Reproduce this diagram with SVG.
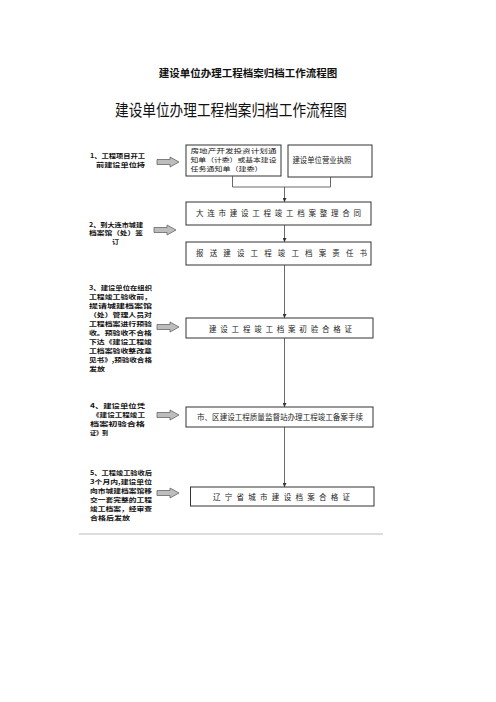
<svg xmlns="http://www.w3.org/2000/svg" width="496" height="702" viewBox="0 0 496 702">
<defs>
<style>
.t{font-family:"Noto Sans CJK SC","Noto Sans",sans-serif;}
.lt{font-family:"Noto Sans CJK SC","Noto Sans",sans-serif;font-size:6.2px;font-weight:bold;fill:#111;}
.bx{fill:#fff;stroke:#333;stroke-width:1;}
.bt{font-family:"Noto Sans CJK SC","Noto Sans",sans-serif;font-size:7.5px;fill:#222;}
.bs{font-family:"Noto Sans CJK SC","Noto Sans",sans-serif;font-size:6.2px;fill:#222;}
.ln{fill:none;stroke:#444;stroke-width:0.8;}
.ba{fill:#bdbdbd;stroke:#666;stroke-width:0.8;}
</style>
<marker id="ah" viewBox="0 0 6 6" refX="6" refY="3" markerWidth="4" markerHeight="4" orient="auto" markerUnits="userSpaceOnUse">
<path d="M0,0 L6,3 L0,6 z" fill="#333"/>
</marker>
<path id="blk" d="M0,-2.5 L13,-2.5 L13,-5 L22,0 L13,5 L13,2.5 L0,2.5 z"/>
</defs>
<rect width="496" height="702" fill="#fff"/>

<g id="titles">
<text class="t" x="248" y="76.5" text-anchor="middle" font-size="10.5" font-weight="bold" fill="#111">建设单位办理工程档案归档工作流程图</text>
<text class="t" x="231" y="115.5" text-anchor="middle" font-size="16.4" fill="#111" textLength="232" lengthAdjust="spacingAndGlyphs">建设单位办理工程档案归档工作流程图</text>
</g>

<g id="step1-label">
<text class="lt" x="90" y="157.5" textLength="55" lengthAdjust="spacingAndGlyphs">1、工程项目开工</text>
<text class="lt" x="96" y="166.5" textLength="49" lengthAdjust="spacingAndGlyphs">前建设单位持</text>
<use href="#blk" class="ba" x="157" y="162"/>
</g>

<g id="step2-label">
<text class="lt" x="89" y="226.5" textLength="54" lengthAdjust="spacingAndGlyphs">2、到大连市城建</text>
<text class="lt" x="89" y="235" textLength="54" lengthAdjust="spacingAndGlyphs">档案馆（处）签</text>
<text class="lt" x="112" y="243.5" textLength="7" lengthAdjust="spacingAndGlyphs">订</text>
<use href="#blk" class="ba" x="154" y="230"/>
</g>

<g id="step3-label">
<text class="lt" x="89" y="290" textLength="63" lengthAdjust="spacingAndGlyphs">3、建设单位在组织</text>
<text class="lt" x="89" y="298.5" textLength="63" lengthAdjust="spacingAndGlyphs">工程竣工验收前，</text>
<text class="lt" x="89" y="307.5" textLength="63" lengthAdjust="spacingAndGlyphs">提请城建档案馆</text>
<text class="lt" x="89" y="316.5" textLength="63" lengthAdjust="spacingAndGlyphs">（处）管理人员对</text>
<text class="lt" x="89" y="325.5" textLength="63" lengthAdjust="spacingAndGlyphs">工程档案进行预验</text>
<text class="lt" x="89" y="334.5" textLength="63" lengthAdjust="spacingAndGlyphs">收。预验收不合格</text>
<text class="lt" x="89" y="343.5" textLength="63" lengthAdjust="spacingAndGlyphs">下达《建设工程竣</text>
<text class="lt" x="89" y="352.5" textLength="63" lengthAdjust="spacingAndGlyphs">工档案验收整改意</text>
<text class="lt" x="89" y="361.5" textLength="63" lengthAdjust="spacingAndGlyphs">见书》,预验收合格</text>
<text class="lt" x="89" y="370.5" textLength="16" lengthAdjust="spacingAndGlyphs">发放</text>
<use href="#blk" class="ba" x="157" y="327"/>
</g>

<g id="step4-label">
<text class="lt" x="90" y="407.5" textLength="55" lengthAdjust="spacingAndGlyphs">4、建设单位凭</text>
<text class="lt" x="92" y="416.5" textLength="53" lengthAdjust="spacingAndGlyphs">《建设工程竣工</text>
<text class="lt" x="90" y="425.5" textLength="55" lengthAdjust="spacingAndGlyphs">档案初验合格</text>
<text class="lt" x="90" y="434.5" textLength="18" lengthAdjust="spacingAndGlyphs">证》到</text>
<use href="#blk" class="ba" x="157" y="415"/>
</g>

<g id="step5-label">
<text class="lt" x="90" y="475" textLength="62" lengthAdjust="spacingAndGlyphs">5、工程竣工验收后</text>
<text class="lt" x="90" y="484" textLength="62" lengthAdjust="spacingAndGlyphs">3个月内,建设单位</text>
<text class="lt" x="90" y="493" textLength="62" lengthAdjust="spacingAndGlyphs">向市城建档案馆移</text>
<text class="lt" x="90" y="502" textLength="62" lengthAdjust="spacingAndGlyphs">交一套完整的工程</text>
<text class="lt" x="90" y="511" textLength="62" lengthAdjust="spacingAndGlyphs">竣工档案，经审查</text>
<text class="lt" x="90" y="520" textLength="40" lengthAdjust="spacingAndGlyphs">合格后发放</text>
<use href="#blk" class="ba" x="157" y="493"/>
</g>

<g id="box1">
<rect class="bx" x="186" y="145" width="95" height="31"/>
<text class="bs" x="190.5" y="152.5" textLength="86" lengthAdjust="spacingAndGlyphs">房地产开发投资计划通</text>
<text class="bs" x="190.5" y="161.5" textLength="86" lengthAdjust="spacingAndGlyphs">知单（计委）或基本建设</text>
<text class="bs" x="190.5" y="170.5" textLength="72" lengthAdjust="spacingAndGlyphs">任务通知单（建委）</text>
</g>

<g id="box2">
<rect class="bx" x="288" y="145" width="84" height="32"/>
<text class="bt" x="292.5" y="162.5" textLength="59" lengthAdjust="spacingAndGlyphs">建设单位营业执照</text>
</g>

<g id="box3">
<rect class="bx" x="186" y="202" width="185" height="23"/>
<text class="bt" x="196" y="216" textLength="165" lengthAdjust="spacing">大连市建设工程竣工档案整理合同</text>
</g>

<g id="box4">
<rect class="bx" x="186" y="242" width="185" height="23"/>
<text class="bt" x="196" y="256" textLength="171" lengthAdjust="spacing">报送建设工程竣工档案责任书</text>
</g>

<g id="box5">
<rect class="bx" x="186" y="318" width="187" height="20"/>
<text class="bt" x="209" y="331.5" textLength="143" lengthAdjust="spacing">建设工程竣工档案初验合格证</text>
</g>

<g id="box6">
<rect class="bx" x="186" y="407" width="187" height="20"/>
<text class="bt" x="197" y="419.5" textLength="166" lengthAdjust="spacingAndGlyphs">市、区建设工程质量监督站办理工程竣工备案手续</text>
</g>

<g id="box7">
<rect class="bx" x="190.5" y="487" width="183.5" height="19"/>
<text class="bt" x="213" y="499.5" textLength="137" lengthAdjust="spacing">辽宁省城市建设档案合格证</text>
</g>

<g id="connectors">
<path class="ln" d="M232.5,176 V187 H330.5 V177"/>
<path class="ln" d="M284.5,187 V202" marker-end="url(#ah)"/>
<path class="ln" d="M284.5,225 V242" marker-end="url(#ah)"/>
<path class="ln" d="M284.5,265 V318" marker-end="url(#ah)"/>
<path class="ln" d="M284.5,338 V407" marker-end="url(#ah)"/>
<path class="ln" d="M284.5,427 V487" marker-end="url(#ah)"/>
</g>

<g id="footer-rule">
<line x1="79" y1="534" x2="383" y2="534" stroke="#bbb" stroke-width="1"/>
</g>
</svg>
